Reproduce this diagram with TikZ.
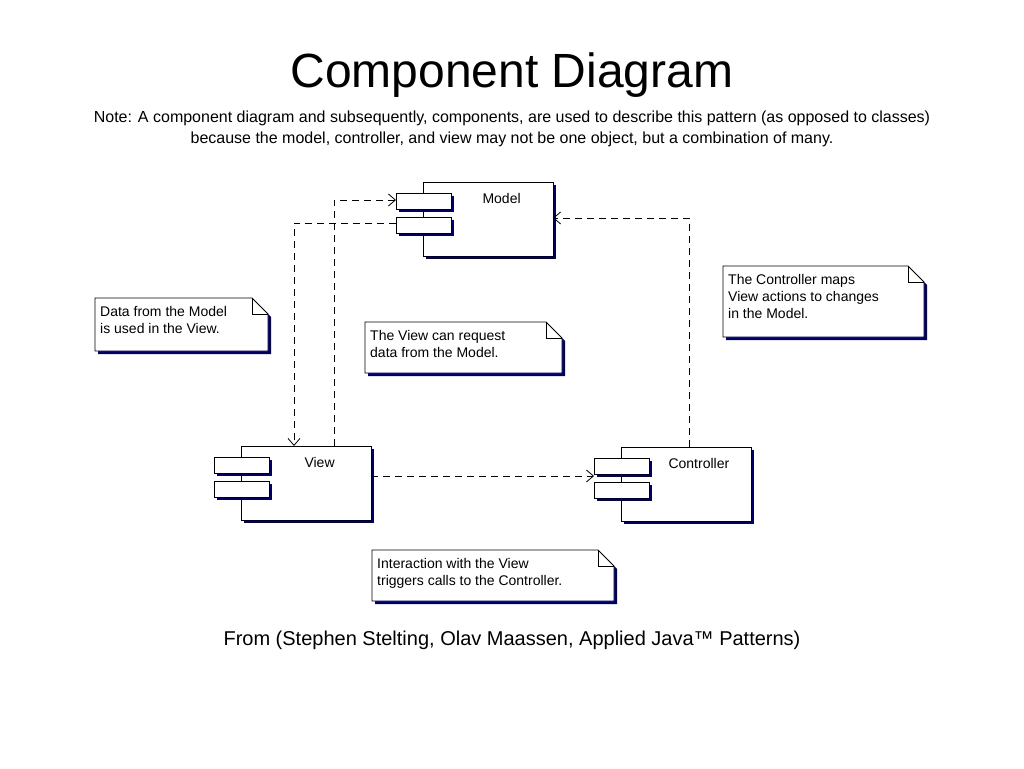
\documentclass[tikz,border=0pt]{standalone}
\usepackage{fontspec}
\setmainfont{Liberation Sans}
\usetikzlibrary{arrows.meta}
\begin{document}
\begin{tikzpicture}[x=1pt,y=-1pt,
  box/.style={draw,fill=white,line width=0.8pt},
  shadow/.style={fill=blue!40!black},
  dep/.style={dashed,dash pattern=on 7pt off 5pt,line width=0.8pt,-{Straight Barb[length=7pt,width=12pt]}},
  lbl/.style={font=\fontsize{14}{17}\selectfont,align=left,anchor=north west,inner sep=0pt},
]
\useasboundingbox (0,0) rectangle (1024,768);
\node[font=\fontsize{48}{52}\selectfont] (title) at (512,75) {Component Diagram};
\node[font=\fontsize{16}{21}\selectfont,align=center] (note) at (512,129) {Note: A component diagram and subsequently, components, are used to describe this pattern (as opposed to classes)\\because the model, controller, and view may not be one object, but a combination of many.};
\node[font=\fontsize{20}{24}\selectfont] (src) at (512,640) {From (Stephen Stelting, Olav Maassen, Applied Java™ Patterns)};
% components
\newcommand{\comp}[5]{% name, x, y, label x offset, label
  \fill[shadow] (#2+3,#3+3) rectangle (#2+133,#3+77);
  \draw[box] (#2,#3) rectangle (#2+130,#3+74);
  \fill[shadow] (#2-27+3,#3+11+3) rectangle (#2+28+3,#3+27+3);
  \fill[shadow] (#2-27+3,#3+35+3) rectangle (#2+28+3,#3+51+3);
  \draw[box] (#2-27,#3+11) rectangle (#2+28,#3+27);
  \draw[box] (#2-27,#3+35) rectangle (#2+28,#3+51);
  \coordinate (#1-nw) at (#2,#3);
  \coordinate (#1-p1) at (#2-27,#3+18);
  \coordinate (#1-p2) at (#2-27,#3+41);
  \coordinate (#1-e) at (#2+130,#3+35);
  \node[font=\fontsize{14}{17}\selectfont,anchor=west] (#1-lbl) at (#2+#4,#3+16) {#5};
}
\comp{model}{423}{182}{56}{Model}
\comp{view}{241}{446}{60}{View}
\comp{ctrl}{621}{447}{44}{Controller}
% notes
\newcommand{\note}[6]{% name,x1,y1,x2,y2,text
  \fill[shadow] (#2+3,#3+3) -- (#4-16+3,#3+3) -- (#4+3,#3+16+3) -- (#4+3,#5+3) -- (#2+3,#5+3) -- cycle;
  \draw[box] (#2,#3) -- (#4-16,#3) -- (#4,#3+16) -- (#4,#5) -- (#2,#5) -- cycle;
  \draw[line width=0.8pt] (#4-16,#3) -- (#4-16,#3+16) -- (#4,#3+16);
  \node[lbl] (#1) at (#2+5,#3+8) {#6};
}
\note{n1}{95}{298}{268}{351}{Data from the Model\\is used in the View.}
\note{n2}{365}{322}{562}{373}{The View can request\\data from the Model.}
\note{n3}{723}{266}{924}{337}{The Controller maps\\View actions to changes\\in the Model.}
\note{n4}{372}{550}{614}{601}{Interaction with the View\\triggers calls to the Controller.}
% connectors
\draw[dep] ([xshift=93pt]view-nw) |- (model-p1);
\draw[dep] (model-p2) -| ([xshift=53pt]view-nw);
\draw[dep] ([yshift=5pt]view-e) -- ([yshift=5pt]view-e -| ctrl-p2);
\draw[dep] ([xshift=68pt]ctrl-nw) |- ([yshift=-1pt]model-e);
\end{tikzpicture}
\end{document}
